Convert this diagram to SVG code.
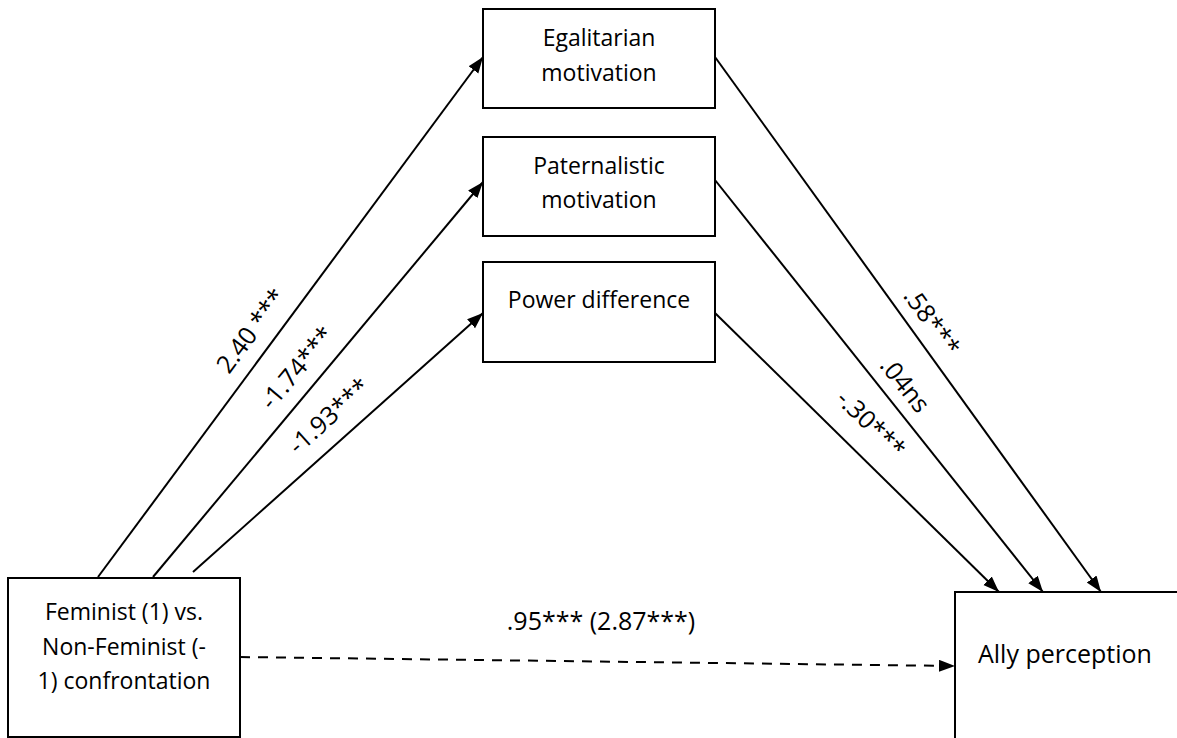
<svg xmlns="http://www.w3.org/2000/svg" width="1177" height="738" viewBox="0 0 1177 738">
<style>
.box{fill:#fff;stroke:#000;stroke-width:2}
.t{font-family:"Open Sans","Noto Sans",sans-serif;font-size:23px;fill:#000;text-anchor:middle}
.lbl{font-family:"Open Sans","Noto Sans",sans-serif;font-size:25px;fill:#000;text-anchor:middle;dominant-baseline:central}
.c{stroke:#000;stroke-width:2;fill:none}
.d{stroke-dasharray:10 8}
</style>
<defs>
<marker id="ah" markerUnits="userSpaceOnUse" markerWidth="17" markerHeight="13" refX="16" refY="6" orient="auto">
<path d="M0,0 L16,6 L0,12 Z" fill="#000"/>
</marker>
</defs>
<rect width="1177" height="738" fill="#fff"/>
<g id="connectors">
<line class="c" x1="98" y1="577" x2="483" y2="57" marker-end="url(#ah)"/>
<line class="c" x1="153" y1="577" x2="483" y2="182" marker-end="url(#ah)"/>
<line class="c" x1="193" y1="572" x2="483" y2="313" marker-end="url(#ah)"/>
<line class="c" x1="715" y1="57" x2="1101" y2="592" marker-end="url(#ah)"/>
<line class="c" x1="715" y1="180" x2="1043" y2="592" marker-end="url(#ah)"/>
<line class="c" x1="715" y1="313" x2="999" y2="592" marker-end="url(#ah)"/>
<line class="c d" x1="240" y1="657" x2="955" y2="666" marker-end="url(#ah)"/>
<text class="lbl" transform="translate(250,330) rotate(-53.5)">2.40 ***</text>
<text class="lbl" transform="translate(296,367) rotate(-50)">-1.74***</text>
<text class="lbl" transform="translate(328,415) rotate(-42)">-1.93***</text>
<text class="lbl" transform="translate(933,321) rotate(54)">.58***</text>
<text class="lbl" transform="translate(906,384) rotate(51.5)">.04ns</text>
<text class="lbl" transform="translate(872,423) rotate(44.5)">-.30***</text>
<text class="lbl" x="601" y="630" style="dominant-baseline:auto">.95*** (2.87***)</text>
</g>
<g id="feminist">
<rect class="box" x="8" y="578" width="232" height="159"/>
<text class="t" x="124" y="620">Feminist (1) vs.</text>
<text class="t" x="124" y="655">Non-Feminist (-</text>
<text class="t" x="124" y="689">1) confrontation</text>
</g>
<g id="egalitarian">
<rect class="box" x="483" y="9" width="232" height="99"/>
<text class="t" x="599" y="46">Egalitarian</text>
<text class="t" x="599" y="81">motivation</text>
</g>
<g id="paternalistic">
<rect class="box" x="483" y="137" width="232" height="99"/>
<text class="t" x="599" y="174">Paternalistic</text>
<text class="t" x="599" y="208">motivation</text>
</g>
<g id="power">
<rect class="box" x="483" y="262" width="232" height="100"/>
<text class="t" x="599" y="308">Power difference</text>
</g>
<g id="ally">
<rect class="box" x="955" y="592" width="240" height="160"/>
<text class="t" x="978" y="663" style="text-anchor:start;font-size:25px">Ally perception</text>
</g>
</svg>
